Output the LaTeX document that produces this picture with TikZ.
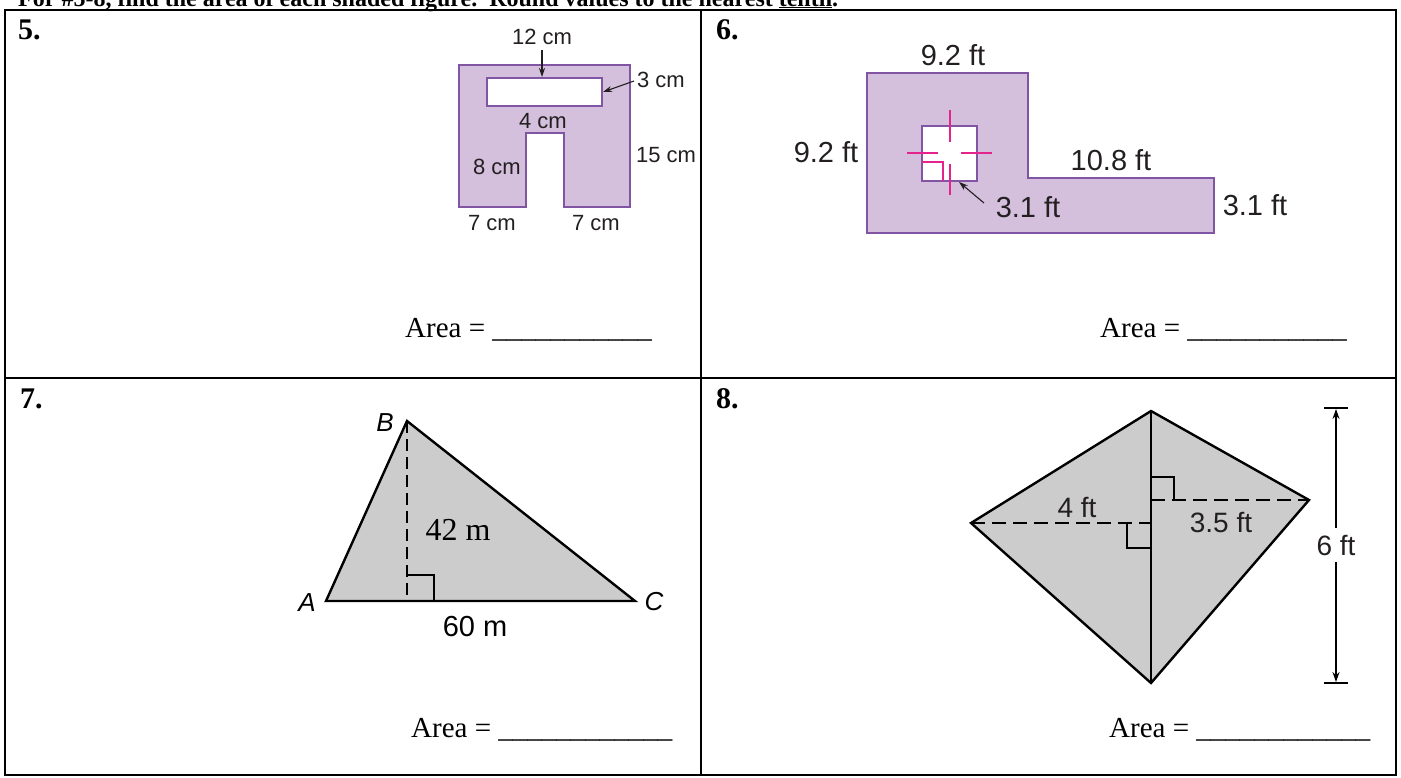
\documentclass[tikz,border=0pt]{standalone}
\usepackage{fontspec}
\setmainfont{Liberation Serif}
\newfontfamily\lsans{Liberation Sans}
\usetikzlibrary{arrows.meta}
\definecolor{figfill}{RGB}{212,191,221}
\definecolor{figline}{RGB}{130,84,164}
\definecolor{tickpink}{RGB}{228,36,140}
\definecolor{labtext}{RGB}{35,31,32}
\definecolor{grayfill}{RGB}{204,204,204}
\begin{document}
\begin{tikzpicture}[x=1pt,y=-1pt,
  gridline/.style={line width=2.5pt},
  num/.style={anchor=base west,inner sep=0pt,font=\bfseries\fontsize{30}{30}\selectfont},
  areatext/.style={anchor=base west,inner sep=0pt,font=\fontsize{29}{29}\selectfont},
  purplefig/.style={fill=figfill,draw=figline,line width=2.4pt},
  holebox/.style={fill=white,draw=figline,line width=2.4pt},
  labfive/.style={inner sep=0pt,text=labtext,font=\lsans\fontsize{22}{22}\selectfont},
  labsix/.style={inner sep=0pt,text=labtext,font=\lsans\fontsize{29}{29}\selectfont},
  labseven/.style={inner sep=0pt,text=black,font=\lsans\itshape\fontsize{26}{26}\selectfont},
  labeight/.style={inner sep=0pt,text=labtext,font=\lsans\fontsize{28}{28}\selectfont},
  thinarrow/.style={draw=labtext,line width=1.1pt,-{Stealth[length=9pt,width=6pt]}},
  tickline/.style={draw=tickpink,line width=1.7pt},
  grayfig/.style={fill=grayfill,draw=black,line width=2.4pt,line join=miter},
  dashseven/.style={draw=black,line width=1.4pt,dash pattern=on 12pt off 6pt},
  dasheight/.style={draw=black,line width=1.4pt,dash pattern=on 14pt off 7pt},
  markline/.style={draw=black,line width=1.4pt},
  dimarrow/.style={line width=1.2pt,-{Stealth[length=10pt,width=7pt]}}
]
\useasboundingbox (0,0) rectangle (1401,777);
% heading (cut off by the page top, as in the reference)
\node[anchor=base west,inner sep=0pt,font=\bfseries\fontsize{24}{24}\selectfont] (head) at (18,6)
  {For \#5-8, find the area of each shaded figure.\ \ Round values to the nearest \underline{tenth}.};
% table
\draw[gridline] (5,10) rectangle (1396,775);
\draw[gridline] (701,10) -- (701,775);
\draw[gridline] (5,378) -- (1396,378);
\node[num] (n5) at (18,39) {5.};
\node[num] (n6) at (716,39) {6.};
\node[num] (n7) at (20,408) {7.};
\node[num] (n8) at (716,408) {8.};
\node[areatext] (ar5) at (405,337) {Area = \_\_\_\_\_\_\_\_\_\_\_};
\node[areatext] (ar6) at (1100,337) {Area = \_\_\_\_\_\_\_\_\_\_\_};
\node[areatext] (ar7) at (411,737) {Area = \_\_\_\_\_\_\_\_\_\_\_\_};
\node[areatext] (ar8) at (1109,737) {Area = \_\_\_\_\_\_\_\_\_\_\_\_};
% figure 5
\draw[purplefig] (459,65) -- (630,65) -- (630,207) -- (564,207) -- (564,133) -- (526,133) -- (526,207) -- (459,207) -- cycle;
\draw[holebox] (487,78) rectangle (602,106);
\node[labfive] (l12) at (542,37) {12 cm};
\node[labfive] (l3) at (661,80) {3 cm};
\node[labfive] (l4) at (543,121) {4 cm};
\node[labfive] (l15) at (666,155) {15 cm};
\node[labfive] (l8) at (497,167) {8 cm};
\node[labfive] (l7a) at (492,223) {7 cm};
\node[labfive] (l7b) at (596,223) {7 cm};
\coordinate (a12s) at (542,50);
\coordinate (a12e) at (542,77);
\draw[thinarrow] (a12s) -- (a12e);
\coordinate (a3s) at (634,81);
\coordinate (a3e) at (603,92);
\draw[thinarrow] (a3s) -- (a3e);
% figure 6
\draw[purplefig] (867,73) -- (1028,73) -- (1028,178) -- (1214,178) -- (1214,233) -- (867,233) -- cycle;
\draw[holebox] (922,126) rectangle (977,181);
\draw[tickline] (950,110) -- (950,142);
\draw[tickline] (907,153) -- (938,153);
\draw[tickline] (961,153) -- (992,153);
\draw[tickline] (950,164) -- (950,195);
\draw[tickline] (922,162) -- (943,162) -- (943,181);
\node[labsix] (s92a) at (953,55) {9.2 ft};
\node[labsix] (s92b) at (826,152) {9.2 ft};
\node[labsix] (s108) at (1111,160) {10.8 ft};
\node[labsix] (s31a) at (1028,207) {3.1 ft};
\node[labsix] (s31b) at (1255,205) {3.1 ft};
\coordinate (a31s) at (984,203);
\coordinate (a31e) at (959,182);
\draw[thinarrow] (a31s) -- (a31e);
% figure 7
\coordinate (tA) at (326,601);
\coordinate (tB) at (407,421);
\coordinate (tC) at (635,601);
\coordinate (tH) at (407,601);
\draw[grayfig] (tA) -- (tB) -- (tC) -- cycle;
\draw[dashseven] (tB) -- (tH);
\draw[markline] (407,575) -- (434,575) -- (434,601);
\node[labseven] (vB) at (385,423) {B};
\node[labseven] (vA) at (307,603) {A};
\node[labseven] (vC) at (654,602) {C};
\node[inner sep=0pt,font=\fontsize{32}{32}\selectfont] (h42) at (458,530) {42 m};
\node[inner sep=0pt,font=\lsans\fontsize{29}{29}\selectfont] (b60) at (475,627) {60 m};
% figure 8
\coordinate (kT) at (1151,411);
\coordinate (kR) at (1309,500);
\coordinate (kB) at (1151,683);
\coordinate (kL) at (971,523);
\coordinate (kM1) at (1151,500);
\coordinate (kM2) at (1151,523);
\draw[grayfig] (kT) -- (kR) -- (kB) -- (kL) -- cycle;
\draw[line width=2.4pt] (kT) -- (kB);
\draw[dasheight] (kL) -- (kM2);
\draw[dasheight] (kM1) -- (kR);
\draw[markline] (1151,477) -- (1174,477) -- (1174,500);
\draw[markline] (1127,523) -- (1127,548) -- (1151,548);
\node[labeight] (e4) at (1077,507) {4 ft};
\node[labeight] (e35) at (1221,522) {3.5 ft};
\node[labeight,inner ysep=7pt] (e6) at (1336,545) {6 ft};
\coordinate (dT) at (1336,409);
\coordinate (dB) at (1336,682);
\draw[line width=1.6pt] (1324,408) -- (1348,408);
\draw[line width=1.6pt] (1324,683) -- (1348,683);
\draw[dimarrow] (e6.north) -- (dT);
\draw[dimarrow] (e6.south) -- (dB);
\end{tikzpicture}
\end{document}
